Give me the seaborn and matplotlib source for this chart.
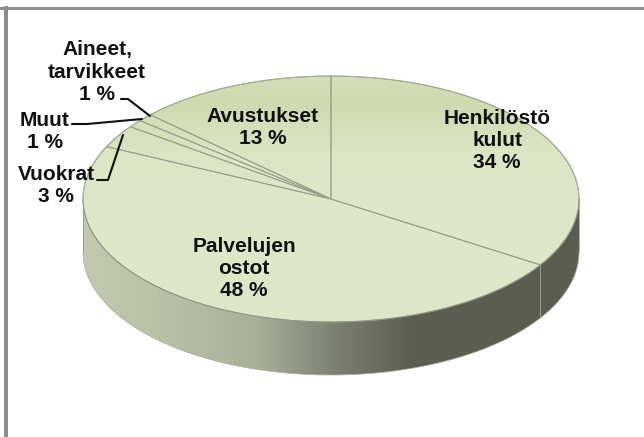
import numpy as np
import matplotlib
matplotlib.use("Agg")
import matplotlib.pyplot as plt
from matplotlib.colors import LinearSegmentedColormap
from matplotlib.path import Path
from matplotlib.patches import PathPatch, Rectangle
import seaborn as sns

categories = ["Henkilöstö\nkulut", "Palvelujen\nostot", "Vuokrat", "Muut", "Aineet,\ntarvikkeet", "Avustukset"]
values = [34, 48, 3, 1, 1, 13]
label_text = [f"{c}\n{v} %" for c, v in zip(categories, values)]

sns.set_theme(style="white")
plt.rcParams["font.family"] = ["Liberation Sans", "DejaVu Sans"]

W, H, CX, CY, RX, RY, DEPTH = 644, 437, 331, 199, 248, 123, 53
fig = plt.figure(figsize=(W / 100, H / 100), dpi=100, facecolor="white")
ax = fig.add_axes([0, 0, 1, 1])
wedges, _ = ax.pie(values, startangle=90, counterclock=False, radius=1,
                   colors=["#DEE7C8"] * len(values),
                   wedgeprops=dict(edgecolor="#9A9F8C", linewidth=0.7))
ax.set_aspect("auto")
ax.axis("off")

def px(x, y):
    return (x - CX) / RX, (CY - y) / RY

def reset_limits():
    ax.set_xlim(-CX / RX, (W - CX) / RX)
    ax.set_ylim(-(H - CY) / RY, CY / RY)

# top-face shading
top_cm = LinearSegmentedColormap.from_list(
    "top", [(0, "#D4DEBA"), (0.1, "#CFDAB0"), (0.2, "#D5DFB9"), (0.3, "#DBE4C3"), (0.5, "#DEE7C8"), (1, "#DEE7C8")])
top_img = ax.imshow(np.linspace(0, 1, 256).reshape(-1, 1), cmap=top_cm, aspect="auto", zorder=1.5,
                    extent=[-1, 1, -1, 1], origin="upper")
t = np.linspace(0, 2 * np.pi, 400)
top_clip = PathPatch(Path(np.c_[np.cos(t), np.sin(t)]), transform=ax.transData, fc="none", ec="none")
ax.add_patch(top_clip)
top_img.set_clip_path(top_clip)
for w in wedges:
    w.set_facecolor("none")
    w.set_zorder(2)

# side wall
d = DEPTH / RY
a = np.linspace(np.pi, 2 * np.pi, 300)
outer = np.r_[np.c_[np.cos(a), np.sin(a)], np.c_[np.cos(a[::-1]), np.sin(a[::-1]) - d]]
side_cm = LinearSegmentedColormap.from_list(
    "side", [(0, "#C2C9AE"), (0.12, "#BCC4A8"), (0.35, "#A9B098"), (0.5, "#7F8373"),
             (0.66, "#5C5F51"), (1, "#5A5D50")])
side_img = ax.imshow(np.linspace(0, 1, 256).reshape(1, -1), cmap=side_cm, aspect="auto", zorder=1,
                     extent=[-1, 1, -1 - d, 0])
clip = PathPatch(Path(outer), transform=ax.transData, fc="none", ec="none")
ax.add_patch(clip)
side_img.set_clip_path(clip)
ax.plot(np.cos(a), np.sin(a) - d, color="#A5A99A", lw=0.5, zorder=1.2)
ax.plot(np.cos(a), np.sin(a), color="#8F9382", lw=0.6, zorder=2.1)
ax.plot(np.cos(a + np.pi), np.sin(a + np.pi), color="#A4AC92", lw=0.7, zorder=2.1)

# seam between first two slices on the wall
ang = np.pi / 2 - 2 * np.pi * values[0] / sum(values)
ax.plot([np.cos(ang)] * 2, [np.sin(ang), np.sin(ang) - d], color="#A5A89A", lw=0.6, zorder=2.2)
for ee in (-1, 1):
    ax.plot([ee, ee], [0, -d], color="#8A8E7E", lw=0.5, zorder=1.2)

def label(i, x, y):
    ax.text(*px(x, y), label_text[i], ha="center", va="center", fontsize=15, fontweight="bold",
            color="#111111", linespacing=1.2, zorder=5)

label(0, 497, 141)
label(1, 244, 269)
label(2, 56, 186)
label(3, 45, 131)
label(4, 97, 72)
label(5, 263, 128)

# leader lines
for pts in ([(121, 99), (128, 99), (150, 116)],
            [(72, 124), (87, 124), (142, 119)],
            [(97, 180), (108, 180), (123, 135)]):
    xs, ys = zip(*[px(*p) for p in pts])
    ax.plot(xs, ys, color="#111111", lw=1.5, zorder=4)

reset_limits()

# frame of the surrounding page
fig.add_artist(Rectangle((4 / W, 0), 3.5 / W, 1 - 6 / H, transform=fig.transFigure, fc="#8E8E8E", ec="none"))
fig.add_artist(Rectangle((0, 1 - 10 / H), 1, 2.5 / H, transform=fig.transFigure, fc="#8E8E8E", ec="none"))
fig.savefig("out.png", dpi=100)
